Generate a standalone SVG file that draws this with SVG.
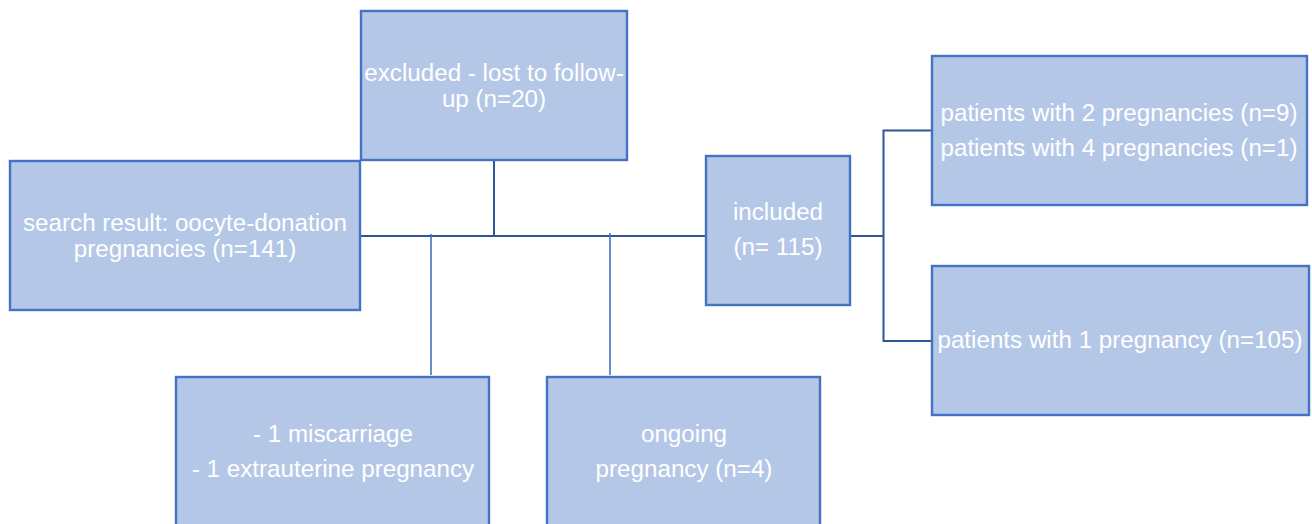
<svg xmlns="http://www.w3.org/2000/svg" width="1312" height="524" viewBox="0 0 1312 524">
<style>
.box{fill:#b4c7e7;stroke:#4472c4;stroke-width:2.4}
.t{font-family:"Liberation Sans",Arial,sans-serif;font-size:24.2px;fill:#ffffff;text-anchor:middle}
.c{fill:none;stroke:#2f5597;stroke-width:2}
.d{fill:none;stroke:#4472c4;stroke-width:1.6}
</style>
<rect width="1312" height="524" fill="#ffffff"/>
<g id="connectors">
<path class="c" d="M360,236 H706"/>
<path class="c" d="M494,160 V236"/>
<path class="d" d="M431,234 V375"/>
<path class="d" d="M610,233 V375"/>
<path class="c" d="M850,236 H883.5"/>
<path class="c" d="M932,130.5 H883.5 V341 H932"/>
</g>
<g id="search">
<rect class="box" x="10" y="161" width="350" height="149"/>
<text class="t" x="185" y="231">search result: oocyte-donation</text>
<text class="t" x="185" y="257">pregnancies (n=141)</text>
</g>
<g id="excluded">
<rect class="box" x="361" y="11" width="266" height="149"/>
<text class="t" x="494" y="81">excluded - lost to follow-</text>
<text class="t" x="494" y="107">up (n=20)</text>
</g>
<g id="included">
<rect class="box" x="706" y="156" width="144" height="149"/>
<text class="t" x="778" y="220">included</text>
<text class="t" x="778" y="255">(n= 115)</text>
</g>
<g id="multi">
<rect class="box" x="932" y="56" width="375" height="149"/>
<text class="t" x="1119" y="121">patients with 2 pregnancies (n=9)</text>
<text class="t" x="1119" y="156">patients with 4 pregnancies (n=1)</text>
</g>
<g id="single">
<rect class="box" x="932" y="266" width="377" height="149"/>
<text class="t" x="1120" y="348">patients with 1 pregnancy (n=105)</text>
</g>
<g id="miscarriage">
<rect class="box" x="176" y="377" width="313" height="149"/>
<text class="t" x="333" y="442">- 1 miscarriage</text>
<text class="t" x="333" y="477">- 1 extrauterine pregnancy</text>
</g>
<g id="ongoing">
<rect class="box" x="547" y="377" width="273" height="149"/>
<text class="t" x="684" y="442">ongoing</text>
<text class="t" x="684" y="477">pregnancy (n=4)</text>
</g>
</svg>
